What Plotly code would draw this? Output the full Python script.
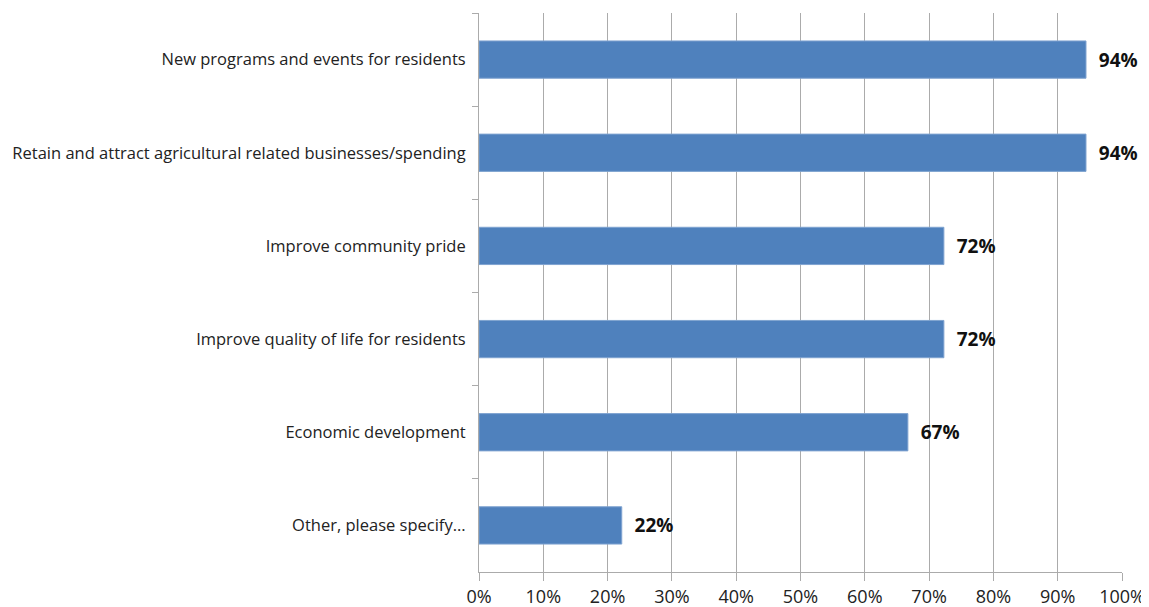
import plotly.graph_objects as go

# Survey responses, top to bottom as shown
categories = [
    "New programs and events for residents",
    "Retain and attract agricultural related businesses/spending",
    "Improve community pride",
    "Improve quality of life for residents",
    "Economic development",
    "Other, please specify...",
]
values = [94.4, 94.4, 72.3, 72.3, 66.7, 22.2]
x_ticks = [0, 10, 20, 30, 40, 50, 60, 70, 80, 90, 100]
x_tick_labels = [f"{t}%" for t in x_ticks]

FONT = "'Open Sans', 'Noto Sans', sans-serif"
GRID = "#ababab"

fig = go.Figure()
fig.add_trace(
    go.Bar(
        x=values,
        y=categories,
        orientation="h",
        marker=dict(color="#4f81bd", line=dict(color="#7fa3d0", width=1)),
        text=values,
        texttemplate="  %{x:.0f}%",
        textposition="outside",
        textfont=dict(family=FONT, size=19, color="#111111", weight="bold"),
        cliponaxis=False,
        hovertemplate="%{y}: %{x:.0f}%<extra></extra>",
    )
)

# the page body adds an 8px offset, so the figure is a bit smaller
fig.update_layout(
    width=1141,
    height=599,
    margin=dict(l=471, r=27, t=5, b=35, autoexpand=False),
    plot_bgcolor="white",
    paper_bgcolor="white",
    bargap=0.6,
    showlegend=False,
    font=dict(family=FONT, size=16, color="#222222"),
)

fig.update_xaxes(
    range=[0, 100],
    tickvals=x_ticks,
    ticktext=x_tick_labels,
    showgrid=True,
    gridcolor=GRID,
    gridwidth=1,
    showline=True,
    linecolor=GRID,
    ticks="outside",
    ticklen=8,
    tickcolor=GRID,
    tickfont=dict(size=18, color="#222222"),
    zeroline=False,
    automargin=False,
)

fig.update_yaxes(
    categoryorder="array",
    categoryarray=categories,
    autorange="reversed",
    tickson="boundaries",
    ticks="outside",
    ticklen=6,
    tickcolor=GRID,
    showline=True,
    linecolor=GRID,
    showgrid=False,
    ticklabelstandoff=9,
    tickfont=dict(size=16.5, color="#222222"),
    automargin=False,
)

fig.write_html("out.html")
